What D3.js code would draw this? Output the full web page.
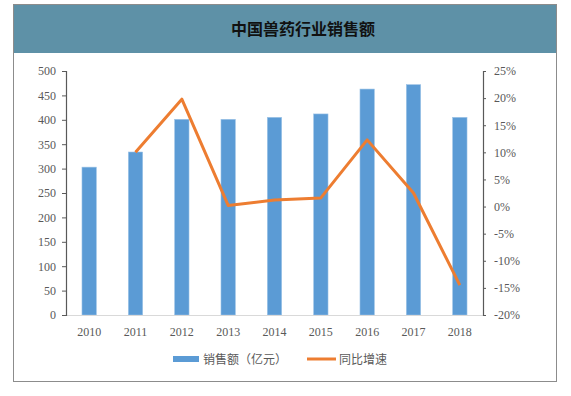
<!DOCTYPE html>
<html>
<head>
<meta charset="utf-8">
<script src="https://cdn.jsdelivr.net/npm/d3@7"></script>
<style>
  body { margin: 0; background: #fff; }
  svg text { font-family: "Liberation Serif", "Times New Roman", serif; }
</style>
</head>
<body>
<div id="chart"></div>
<script>
// Data
const years = ['2010', '2011', '2012', '2013', '2014', '2015', '2016', '2017', '2018'];
const sales = [303, 334, 401, 401, 405, 412, 463, 472, 405];
const growth = [null, 10.0, 19.8, 0.2, 1.2, 1.6, 12.3, 2.5, -14.5];
const leftTicks = [0, 50, 100, 150, 200, 250, 300, 350, 400, 450, 500];
const rightTicks = [-20, -15, -10, -5, 0, 5, 10, 15, 20, 25];

const title = '中国兽药行业销售额';
const legendBar = '销售额（亿元）';
const legendLine = '同比增速';

// Margins
let W = 571, H = 396;
let plot = {left: 66, right: 483, top: 71, bottom: 315};

const svg = d3.select('#chart')
    .append('svg')
    .attr('width', W)
    .attr('height', H);

// frame + header
svg.append('rect')
    .attr('x', 13.5).attr('y', 4.5)
    .attr('width', 543).attr('height', 377)
    .attr('fill', '#fff')
    .attr('stroke', '#8c8c8c');

svg.append('rect')
    .attr('x', 14).attr('y', 5)
    .attr('width', 542).attr('height', 48)
    .attr('fill', '#5e91a7');

svg.append('text')
    .attr('x', 303).attr('y', 35)
    .attr('text-anchor', 'middle')
    .style('font-family', '"Noto Sans CJK SC", sans-serif')
    .style('font-weight', 'bold')
    .style('font-size', '16px')
    .attr('fill', '#111')
    .text(title);

// SCALES
let x = d3.scaleBand()
    .domain(years)
    .range([plot.left, plot.right])
    .paddingInner(0.69)
    .paddingOuter(0.345);

let xc = d3.scaleBand().domain(years).range([plot.left, plot.right]);

let yLeft = d3.scaleLinear()
    .domain([0, 500])
    .range([plot.bottom, plot.top]);

let yRight = d3.scaleLinear()
    .domain([-20, 25])
    .range([plot.bottom, plot.top]);

// BARS
svg.selectAll('.bar')
    .data(sales).enter()
    .append('rect')
    .attr('class', 'bar')
    .attr('x', (d, i) => x(years[i]))
    .attr('y', d => yLeft(d))
    .attr('width', x.bandwidth())
    .attr('height', d => plot.bottom - yLeft(d))
    .attr('fill', '#5b9bd5')
    .attr('stroke', '#9dc3e6')
    .attr('stroke-width', 0.6);

// x baseline
svg.append('line')
    .attr('x1', plot.left).attr('x2', plot.right)
    .attr('y1', plot.bottom + 0.5).attr('y2', plot.bottom + 0.5)
    .attr('stroke', '#d9d9d9');

// LINE
let line = d3.line()
    .defined(d => d != null)
    .x((d, i) => xc(years[i]) + xc.bandwidth() / 2)
    .y(d => yRight(d));

svg.append('path')
    .datum(growth)
    .attr('d', line)
    .attr('fill', 'none')
    .attr('stroke', '#ed7d31')
    .attr('stroke-width', 3)
    .attr('stroke-linejoin', 'round');

// AXES
let gL = svg.append('g')
    .attr('transform', 'translate(' + plot.left + ',0)')
    .call(d3.axisLeft(yLeft).tickValues(leftTicks).tickSize(4).tickPadding(6));

let gR = svg.append('g')
    .attr('transform', 'translate(' + plot.right + ',0)')
    .call(d3.axisRight(yRight).tickValues(rightTicks).tickSize(3).tickPadding(8)
        .tickFormat(d => d + '%'));

[gL, gR].forEach(g => {
    g.select('.domain').attr('stroke', '#595959').attr('stroke-width', 1.2);
    g.selectAll('.tick line').attr('stroke', '#595959');
    g.selectAll('.tick text')
        .attr('fill', '#595959')
        .style('font-size', '12px')
        .style('font-family', '"Liberation Serif", serif');
});

let gX = svg.append('g')
    .attr('transform', 'translate(0,' + plot.bottom + ')')
    .call(d3.axisBottom(xc).tickSize(0).tickPadding(12));
gX.select('.domain').remove();
gX.selectAll('.tick text')
    .attr('fill', '#595959')
    .style('font-size', '12px')
    .style('font-family', '"Liberation Serif", serif');

// LEGEND
let legend = svg.append('g');
legend.append('rect')
    .attr('x', 173).attr('y', 356)
    .attr('width', 26).attr('height', 6)
    .attr('fill', '#5b9bd5');
legend.append('text')
    .attr('x', 203).attr('y', 364)
    .attr('fill', '#595959')
    .style('font-family', '"Noto Sans CJK SC", sans-serif')
    .style('font-size', '12px')
    .text(legendBar);
legend.append('line')
    .attr('x1', 307).attr('x2', 336)
    .attr('y1', 359).attr('y2', 359)
    .attr('stroke', '#ed7d31')
    .attr('stroke-width', 3);
legend.append('text')
    .attr('x', 339).attr('y', 364)
    .attr('fill', '#595959')
    .style('font-family', '"Noto Sans CJK SC", sans-serif')
    .style('font-size', '12px')
    .text(legendLine);
</script>
</body>
</html>
